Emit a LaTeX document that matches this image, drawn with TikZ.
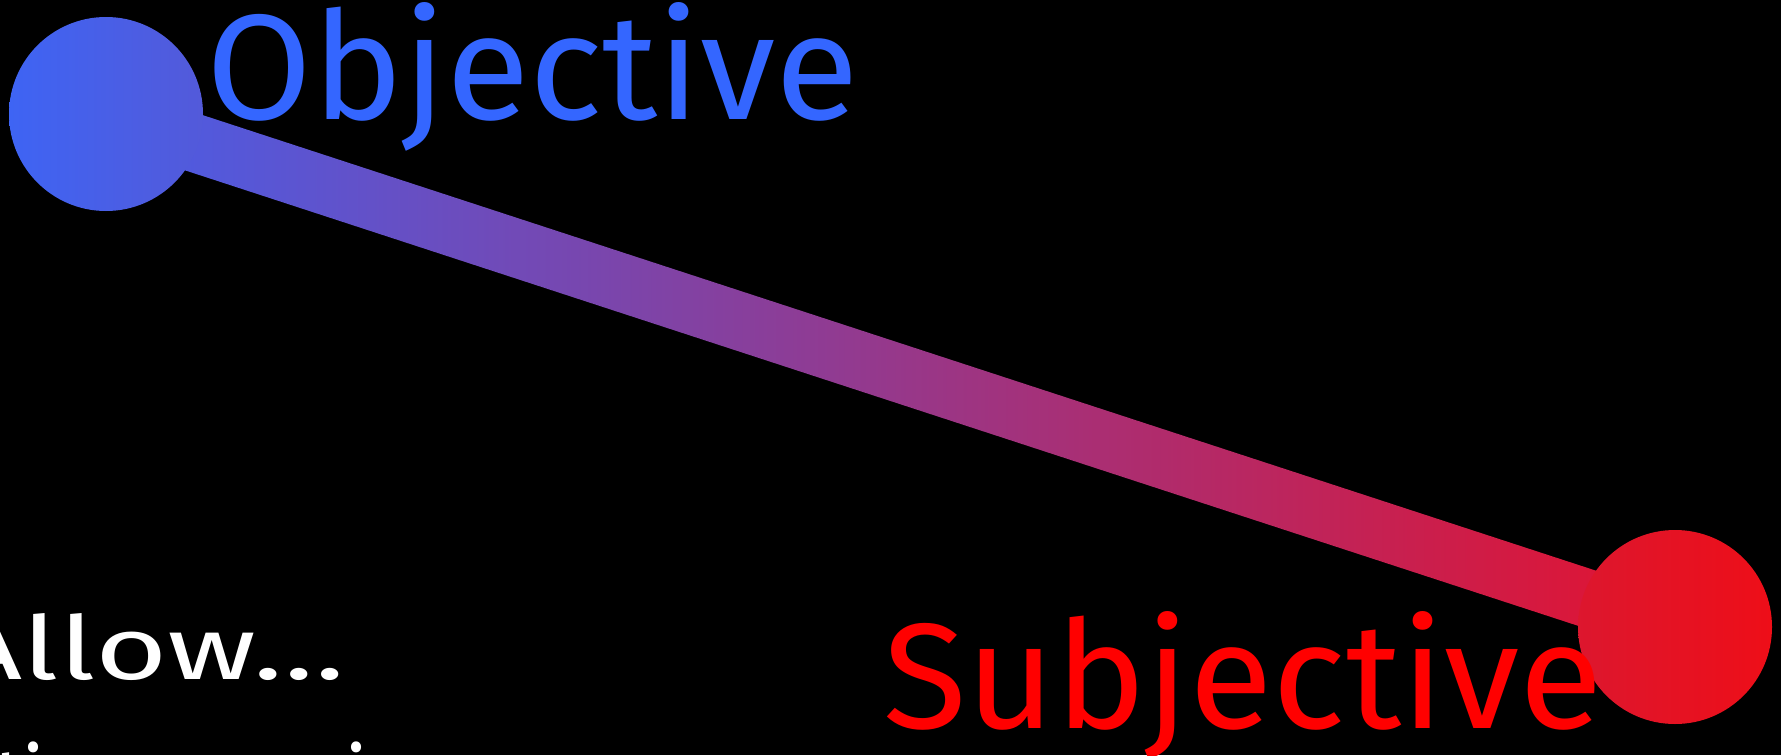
\documentclass[tikz,border=0pt]{standalone}
\usepackage{fontspec}
\setmainfont{Fira Sans}
\usetikzlibrary{calc,backgrounds}
\definecolor{objblue}{RGB}{52,102,255}
\definecolor{subred}{RGB}{255,0,0}
\definecolor{dotblue}{RGB}{62,100,244}
\definecolor{dotred}{RGB}{238,14,24}
\definecolor{lineblue}{RGB}{72,94,232}
\definecolor{linered}{RGB}{228,18,46}
\begin{document}
\begin{tikzpicture}[x=0.5pt,y=-0.5pt,
  endpoint/.style={circle,minimum size=97pt,inner sep=0pt},
  bigword/.style={font=\fontsize{75}{80}\selectfont,inner sep=0pt,anchor=base west,xscale=1.02},
  note/.style={font=\fontsize{44}{50}\selectfont,text=white,inner sep=0pt}]
\useasboundingbox (0,0) rectangle (1781,755);
\clip (0,0) rectangle (1781,755);
\node[endpoint,left color=dotblue,right color=dotblue!88!dotred] (a) at (106,114) {};
\node[endpoint,left color=dotred!90!dotblue,right color=dotred] (b) at (1675,627) {};
\begin{scope}[on background layer]
\fill[black] (0,0) rectangle (1781,755);
\shade[left color=lineblue,right color=linered]
  ($(a.center)!14.5pt!90:(b.center)$) -- ($(b.center)!14.5pt!-90:(a.center)$) --
  ($(b.center)!14.5pt!90:(a.center)$) -- ($(a.center)!14.5pt!-90:(b.center)$) -- cycle;
\end{scope}
\node[bigword,text=objblue] (obj) at (206,119) {Objective};
\node[bigword,text=subred] (subj) at (883,728) {Subjective};
\node[note,anchor=base east,xscale=1.41] (allow) at (346,679) {Allow…};
\node[note,anchor=base,xscale=0.89] (subexp) at (146,810) {Subjective experience};
\end{tikzpicture}
\end{document}
